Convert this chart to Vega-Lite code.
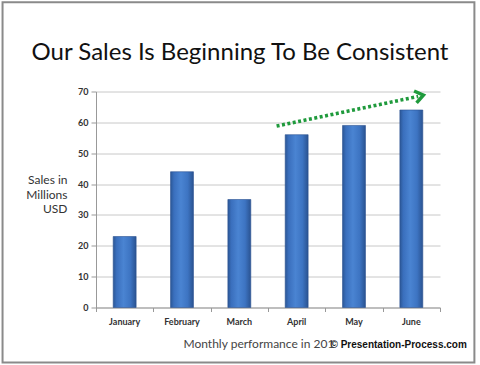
{
  "$schema": "https://vega.github.io/schema/vega-lite/v6.json",
  "width": 344,
  "height": 216,
  "autosize": {"type": "none"},
  "padding": {"left": 96, "top": 91.5, "right": 40, "bottom": 57.5},
  "background": "white",
  "title": {
    "text": "Our Sales Is Beginning To Be Consistent",
    "font": "Lato",
    "fontSize": 24,
    "fontWeight": "normal",
    "color": "#111111",
    "anchor": "middle",
    "frame": "group",
    "dx": -28,
    "offset": -64
  },
  "config": {
    "view": {"stroke": null},
    "axis": {"labelFont": "Lato", "titleFont": "Lato"}
  },
  "layer": [
    {
      "data": {
        "values": [
          {"month": "January", "sales": 23},
          {"month": "February", "sales": 44},
          {"month": "March", "sales": 35},
          {"month": "April", "sales": 56},
          {"month": "May", "sales": 59},
          {"month": "June", "sales": 64}
        ]
      },
      "mark": {
        "type": "bar",
        "stroke": "#2a5190",
        "strokeWidth": 0.6,
        "color": {
          "gradient": "linear",
          "x1": 0, "x2": 1, "y1": 0, "y2": 0,
          "stops": [
            {"offset": 0, "color": "#2b5796"},
            {"offset": 0.15, "color": "#3a6fbd"},
            {"offset": 0.45, "color": "#4a84d2"},
            {"offset": 0.75, "color": "#3d74c2"},
            {"offset": 1, "color": "#2a5391"}
          ]
        }
      },
      "encoding": {
        "x": {
          "field": "month",
          "type": "nominal",
          "sort": null,
          "scale": {"paddingInner": 0.6, "paddingOuter": 0.3},
          "axis": {
            "orient": "bottom",
            "title": "Monthly performance in 201",
            "titleFontSize": 12,
            "titleFontWeight": "normal",
            "titleColor": "#444444",
            "titleAlign": "left",
            "titleAnchor": "start",
            "titleBaseline": "middle",
            "titleX": 87,
            "titleY": 36,
            "labelAngle": 0,
            "labelFontSize": 9,
            "labelFontWeight": "bold",
            "labelColor": "#333333",
            "labelPadding": 10,
            "ticks": false,
            "domain": true,
            "domainColor": "#999999",
            "grid": false
          }
        },
        "y": {
          "field": "sales",
          "type": "quantitative",
          "scale": {"domain": [0, 70], "nice": false},
          "axis": {
            "values": [0, 10, 20, 30, 40, 50, 60, 70],
            "title": ["Sales in", "Millions", "USD"],
            "titleAngle": 0,
            "titleAlign": "right",
            "titleBaseline": "middle",
            "titleX": -29,
            "titleY": 88,
            "titleFontSize": 12,
            "titleFontWeight": "normal",
            "titleColor": "#333333",
            "titleLineHeight": 14.5,
            "labelFontSize": 9,
            "labelFontWeight": "bold",
            "labelColor": "#333333",
            "labelPadding": 3,
            "labelOverlap": false,
            "tickSize": 5,
            "tickColor": "#999999",
            "domainColor": "#999999",
            "gridColor": "#c8c8c8",
            "grid": true
          }
        }
      }
    },
    {
      "layer": [
        {
          "data": {
            "values": [
              {"pos": 3.15, "val": 58.8},
              {"pos": 5.62, "val": 68.4}
            ]
          },
          "mark": {"type": "line", "stroke": "#1f9a3c", "strokeWidth": 3.5, "strokeDash": [3, 2.5], "strokeCap": "butt"},
          "encoding": {
            "x": {
              "field": "pos",
              "type": "quantitative",
              "scale": {"domain": [0, 6], "nice": false, "zero": false},
              "axis": {
                "orient": "bottom",
                "values": [0, 1, 2, 3, 4, 5, 6],
                "labels": false,
                "domain": false,
                "grid": false,
                "ticks": true,
                "tickSize": 4,
                "tickColor": "#999999",
                "title": "© Presentation-Process.com",
                "titleFont": "Liberation Sans",
                "titleFontSize": 10,
                "titleFontWeight": "bold",
                "titleColor": "#111111",
                "titleAlign": "left",
                "titleAnchor": "start",
                "titleBaseline": "middle",
                "titleX": 234,
                "titleY": 37
              }
            },
            "y": {"field": "val", "type": "quantitative", "scale": {"domain": [0, 70], "nice": false, "zero": false}, "axis": null}
          }
        },
        {
          "data": {"values": [{"pos": 5.71, "val": 68.8}]},
          "mark": {
            "type": "point",
            "shape": "M -1.5 -1.1 L 0 0 L -1.5 1.1",
            "filled": false,
            "size": 120,
            "angle": -12,
            "stroke": "#1f9a3c",
            "strokeWidth": 3.5,
            "opacity": 1
          },
          "encoding": {
            "x": {"field": "pos", "type": "quantitative"},
            "y": {"field": "val", "type": "quantitative", "axis": null}
          }
        },
        {
          "data": {"values": [{"x0": -1.63, "x1": 6.6, "y0": -17.8, "y1": 98.9}]},
          "mark": {"type": "rect", "fill": null, "stroke": "#8a8a8a", "strokeWidth": 2, "clip": false},
          "encoding": {
            "x": {"field": "x0", "type": "quantitative"},
            "x2": {"field": "x1"},
            "y": {"field": "y0", "type": "quantitative", "axis": null},
            "y2": {"field": "y1"}
          }
        }
      ]
    }
  ],
  "resolve": {"scale": {"x": "independent", "y": "independent"}, "axis": {"x": "independent", "y": "independent"}}
}
